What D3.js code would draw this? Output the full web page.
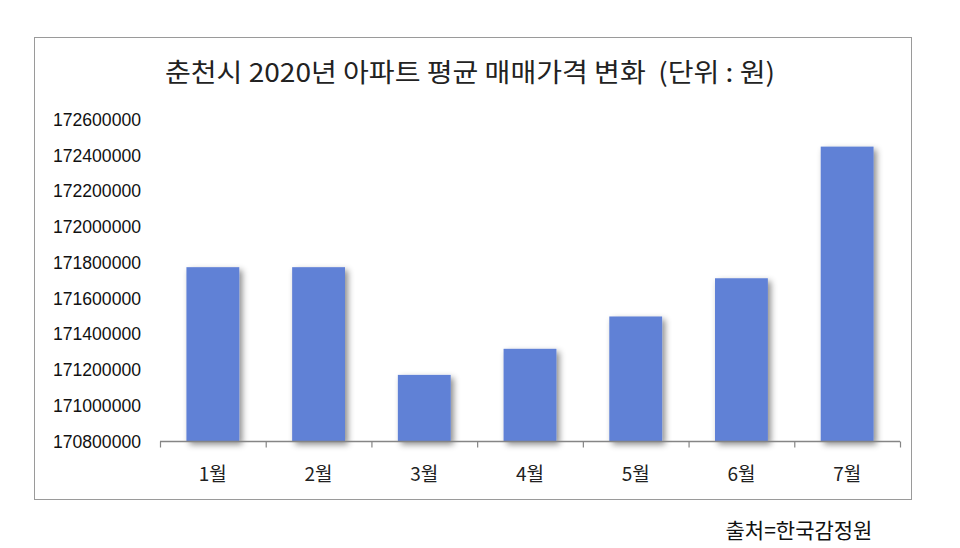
<!DOCTYPE html>
<html><head><meta charset="utf-8">
<script src="https://cdn.jsdelivr.net/npm/d3@7"></script>
<style>body{margin:0;background:#fff;} svg{display:block;}</style>
</head><body>
<svg id="c" width="960" height="548"></svg>
<script>
const months = ["1월","2월","3월","4월","5월","6월","7월"];
const prices = [171776000, 171776000, 171173000, 171319000, 171500000, 171714000, 172451000];
const yTicks = [170800000,171000000,171200000,171400000,171600000,171800000,172000000,172200000,172400000,172600000];
const title = "춘천시 2020년 아파트 평균 매매가격 변화  (단위 : 원)";
const source = "출처=한국감정원";

const svg = d3.select("#c");
const defs = svg.append("defs");
const f = defs.append("filter").attr("id","sh").attr("x","-30%").attr("y","-30%").attr("width","160%").attr("height","160%");
f.append("feDropShadow").attr("dx",3).attr("dy",3).attr("stdDeviation",3).attr("flood-color","#000").attr("flood-opacity",0.45);
const g2 = defs.append("filter").attr("id","lsh").attr("x","-5%").attr("y","-200%").attr("width","110%").attr("height","500%");
g2.append("feDropShadow").attr("dx",0).attr("dy",1).attr("stdDeviation",0.8).attr("flood-color","#000").attr("flood-opacity",0.2);

// outer frame
svg.append("rect").attr("x",34.5).attr("y",37.5).attr("width",877).attr("height",462)
  .attr("fill","#fff").attr("stroke","#9a9a9a").attr("stroke-width",1);

const L=160, R=900, T=120, B=441.5;
const x = d3.scaleBand().domain(months).range([L,R]).paddingInner(0.5).paddingOuter(0.25);
const y = d3.scaleLinear().domain([170800000,172600000]).range([B,T]);

svg.append("text").attr("x",470).attr("y",82).attr("text-anchor","middle")
  .attr("font-family","'Noto Sans CJK KR'").attr("font-size",26).attr("fill","#222")
  .style("white-space","pre")
  .attr("textLength",610).attr("lengthAdjust","spacingAndGlyphs")
  .text(title);

// grid
const grid = svg.append("g").attr("transform",`translate(${L},0)`)
  .call(d3.axisLeft(y).tickValues(yTicks).tickSize(-(R-L)).tickFormat(""));
grid.select(".domain").remove();
grid.selectAll(".tick line").attr("stroke","#858585").attr("stroke-width",1.4).attr("filter","url(#lsh)");

// y labels
svg.append("g").selectAll("text").data(yTicks).join("text")
  .attr("x",141).attr("y",d=>y(d)+6).attr("text-anchor","end")
  .attr("font-family","'Liberation Sans',Arial").attr("font-size",17.6).attr("fill","#111")
  .text(d=>d3.format("d")(d));

// bars
svg.append("g").selectAll("rect").data(prices).join("rect")
  .attr("x",(d,i)=>x(months[i])).attr("width",x.bandwidth())
  .attr("y",d=>y(d)).attr("height",d=>B-y(d))
  .attr("fill","#6181d6").attr("filter","url(#sh)");

// x axis
const xb = d3.scaleLinear().domain([0,months.length]).range([L,R]);
const xa = svg.append("g").attr("transform",`translate(0,${B})`)
  .call(d3.axisBottom(xb).tickValues(d3.range(0,months.length+1)).tickSize(6).tickFormat(""));
xa.select(".domain").attr("stroke","#858585").attr("stroke-width",1.4).attr("d",`M${L},0H${R}`);
xa.selectAll(".tick line").attr("stroke","#858585").attr("stroke-width",1.2);

svg.append("g").selectAll("text").data(months).join("text")
  .attr("x",d=>x(d)+x.bandwidth()/2).attr("y",481).attr("text-anchor","middle")
  .attr("font-family","'Noto Sans CJK KR'").attr("font-size",19).attr("fill","#222")
  .text(d=>d);

svg.append("text").attr("x",799).attr("y",538).attr("text-anchor","middle")
  .attr("font-family","'Noto Sans CJK KR'").attr("font-size",21).attr("fill","#111")
  .text(source);
</script>
</body></html>
